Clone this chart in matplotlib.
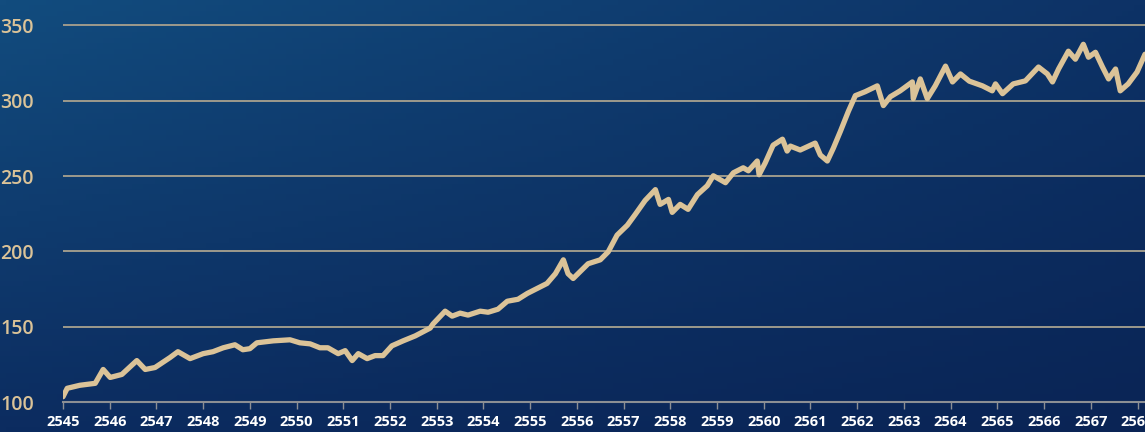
import numpy as np
import matplotlib
matplotlib.use("Agg")
from matplotlib import pyplot as plt
from matplotlib.colors import to_rgb

# data (Buddhist-era years, index level)
years = [2545.00, 2545.09, 2545.36, 2545.69, 2545.86, 2546.01, 2546.26, 2546.58, 2546.76, 2546.97,
         2547.29, 2547.46, 2547.72, 2548.00, 2548.21, 2548.43, 2548.68, 2548.85, 2549.00, 2549.15,
         2549.50, 2549.86, 2550.07, 2550.29, 2550.50, 2550.67, 2550.89, 2551.04, 2551.19, 2551.32,
         2551.51, 2551.68, 2551.85, 2552.04, 2552.28, 2552.54, 2552.86, 2552.92, 2553.18, 2553.33,
         2553.50, 2553.67, 2553.93, 2554.10, 2554.31, 2554.51, 2554.74, 2554.94, 2555.15, 2555.36,
         2555.54, 2555.71, 2555.81, 2555.92, 2556.07, 2556.24, 2556.50, 2556.67, 2556.86, 2557.08,
         2557.25, 2557.46, 2557.68, 2557.78, 2557.96, 2558.04, 2558.21, 2558.38, 2558.58, 2558.79,
         2558.92, 2559.18, 2559.35, 2559.56, 2559.67, 2559.86, 2559.90, 2560.03, 2560.20, 2560.40,
         2560.50, 2560.57, 2560.78, 2561.10, 2561.21, 2561.36, 2561.49, 2561.64, 2561.81, 2561.96,
         2562.17, 2562.43, 2562.56, 2562.71, 2562.92, 2563.18, 2563.20, 2563.35, 2563.50, 2563.67,
         2563.89, 2564.04, 2564.21, 2564.40, 2564.68, 2564.89, 2564.96, 2565.11, 2565.34, 2565.60,
         2565.88, 2566.07, 2566.18, 2566.31, 2566.52, 2566.67, 2566.84, 2566.95, 2567.10, 2567.25,
         2567.38, 2567.53, 2567.63, 2567.80, 2567.99, 2568.16]
values = [103.5, 109.1, 111.1, 112.4, 121.6, 116.3, 118.3, 127.5, 121.6, 122.9,
          129.5, 133.4, 128.8, 132.1, 133.4, 136.0, 138.0, 134.7, 135.4, 139.3,
          140.6, 141.3, 139.3, 138.6, 136.0, 136.0, 132.1, 134.1, 127.5, 132.1,
          128.8, 130.8, 130.8, 137.3, 140.6, 143.9, 149.1, 151.8, 160.3, 157.0,
          159.0, 157.7, 160.3, 159.6, 161.6, 166.9, 168.2, 172.1, 175.4, 178.7,
          185.2, 194.4, 185.2, 182.0, 186.6, 191.8, 194.4, 199.7, 210.8, 217.4,
          224.6, 233.8, 241.0, 231.2, 234.5, 225.9, 231.2, 227.9, 237.7, 243.6,
          250.2, 245.6, 252.2, 255.5, 253.5, 260.0, 250.9, 258.7, 270.5, 274.5,
          266.6, 269.9, 267.3, 271.9, 264.0, 260.0, 268.6, 279.7, 292.9, 303.4,
          306.0, 309.9, 296.8, 302.7, 306.6, 312.5, 301.4, 314.5, 301.4, 309.9,
          323.0, 312.5, 317.8, 313.0, 309.9, 306.6, 311.2, 304.7, 311.2, 313.2,
          322.4, 317.8, 312.5, 321.1, 332.9, 327.6, 337.5, 328.9, 332.2, 322.4,
          314.5, 321.1, 306.6, 311.2, 319.1, 330.9]

x_ticks = list(range(2545, 2569))
y_ticks = [100, 150, 200, 250, 300, 350]

tan = '#dbc398'
grid_c = '#9d9a8c'

fig = plt.figure(figsize=(11.45, 4.32), dpi=100)

# background gradient
bg = fig.add_axes([0, 0, 1, 1], zorder=-1)
bg.axis('off')
tl, tr = np.array(to_rgb('#124c7e')), np.array(to_rgb('#0d3266'))
bl, br = np.array(to_rgb('#0c2c60')), np.array(to_rgb('#0a2455'))
u = np.linspace(0, 1, 200)[None, :, None]
v = np.linspace(0, 1, 80)[:, None, None]
img = (1 - v) * ((1 - u) * tl + u * tr) + v * ((1 - u) * bl + u * br)
bg.imshow(img, aspect='auto', extent=[0, 1, 0, 1])

ax = fig.add_axes([63 / 1145, 30 / 432, 1 - 63 / 1145, 1 - 30 / 432])
ax.patch.set_alpha(0)
ax.plot(years, values, color=tan, lw=3.8, solid_joinstyle='round', solid_capstyle='round', zorder=3)

ax.set_xlim(2545, 2568.16)
ax.set_ylim(100, 366.9)
ax.set_xticks(x_ticks)
ax.set_yticks(y_ticks)
ax.set_xticklabels([str(t) for t in x_ticks], color='white', fontsize=10.5,
                   fontweight='bold', family=['Open Sans', 'DejaVu Sans'])
ax.set_yticklabels([str(t) for t in y_ticks], color=tan, fontsize=14,
                   fontweight='semibold', family=['Open Sans', 'DejaVu Sans'])
ax.tick_params(axis='x', direction='out', length=5, width=1, color='#8c8f94', pad=4)
ax.tick_params(axis='y', length=0, pad=21)

for s in ['top', 'right', 'left']:
    ax.spines[s].set_visible(False)
ax.spines['bottom'].set_color('#8c8f94')
ax.spines['bottom'].set_linewidth(1.5)

ax.yaxis.grid(True, color=grid_c, lw=1.4)
ax.set_axisbelow(True)

plt.savefig('out.png', dpi=100)
